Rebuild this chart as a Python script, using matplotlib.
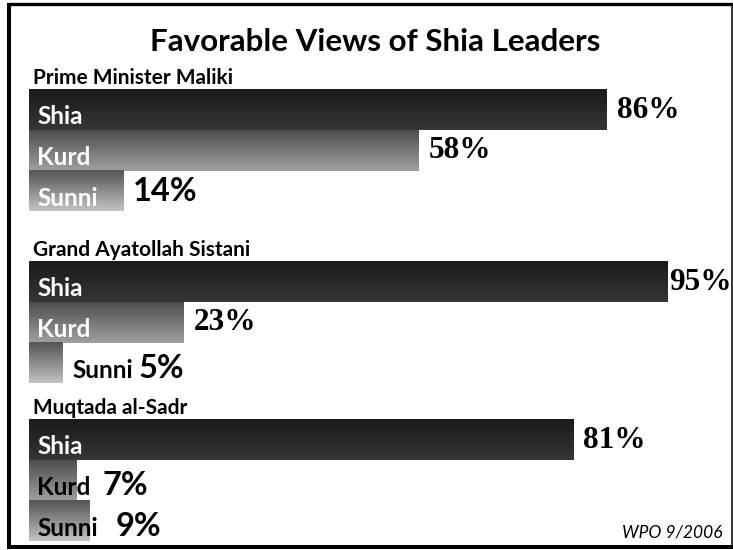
import matplotlib.pyplot as plt
import numpy as np
from matplotlib.colors import LinearSegmentedColormap
from matplotlib.lines import Line2D

# values
leaders = ["Prime Minister Maliki", "Grand Ayatollah Sistani", "Muqtada al-Sadr"]
groups = ["Shia", "Kurd", "Sunni"]
maliki = [86, 58, 14]
sistani = [95, 23, 5]
sadr = [81, 7, 9]
values = [maliki, sistani, sadr]

# gradient (top, bottom) for each group
shades = {
    "Shia": ("#1a1a1a", "#363636"),
    "Kurd": ("#4e4e4e", "#a0a0a0"),
    "Sunni": ("#555555", "#c2c2c2"),
}

W, H = 733, 550
fig = plt.figure(figsize=(W / 100, H / 100), dpi=100)
fig.patch.set_facecolor("white")

# axes: x in percent (0 at px 29, 6.72 px per %), y in pixels from the top
left_px = 29
px_per_pct = 6.72
ax = fig.add_axes([left_px / W, 0, 100 * px_per_pct / W, 1])
ax.set_axis_off()

sans = "Lato"
serif = "Liberation Serif"

group_tops = [90, 262, 420]
bar_h = 40.5
# spacing (points) between category name and value for the short bars
small_gap = {(1, 2): 4, (2, 1): 9, (2, 2): 13}

grad = np.linspace(0, 1, 64).reshape(-1, 1)

for gi, leader in enumerate(leaders):
    top = group_tops[gi]
    fig.text(33 / W, 1 - (top - 6) / H, leader, fontsize=15, fontweight="bold",
             family=sans, ha="left", va="baseline")
    for bi, grp in enumerate(groups):
        v = values[gi][bi]
        y0 = top + bi * bar_h
        y1 = y0 + bar_h
        cmap = LinearSegmentedColormap.from_list(grp, shades[grp])
        ax.imshow(grad, cmap=cmap, extent=(0, v, y1, y0), origin="upper",
                  aspect="auto", interpolation="bilinear")
        base = y1 - 6
        end_px = v * px_per_pct
        if v >= 14:
            ax.text(8 / px_per_pct, base, grp, color="white", fontsize=17.5,
                    fontweight="bold", family=sans, va="baseline")
            gap = 2 if v > 90 else 10
            ax.text(v + gap / px_per_pct, (y0 + y1) / 2, f"{v}%",
                    fontsize=22.5 if v >= 20 else 23.5, fontweight="bold",
                    family=serif if v >= 20 else sans, va="center")
        else:
            lx = 8 if end_px > 40 else end_px + 10
            lab = ax.text(lx / px_per_pct, base, grp, color="black", fontsize=17.5,
                          fontweight="bold", family=sans, va="baseline")
            ax.annotate(f"{v}%", xy=(1, 0), xycoords=lab,
                        xytext=(small_gap.get((gi, bi), 6), -1),
                        textcoords="offset points", fontsize=23.5,
                        fontweight="bold", family=sans, va="bottom")

ax.set_xlim(0, 100)
ax.set_ylim(H, 0)

fig.text(375 / W, 1 - 51 / H, "Favorable Views of Shia Leaders", fontsize=22.6,
         fontweight="bold", family=sans, ha="center", va="baseline")
fig.text(722 / W, 1 - 538 / H, "WPO 9/2006", fontsize=12.5, style="italic",
         family=sans, ha="right", va="baseline")

# frame
def px_line(xs, ys, lw):
    fig.add_artist(Line2D([x / W for x in xs], [1 - y / H for y in ys],
                          transform=fig.transFigure, color="black", lw=lw,
                          solid_capstyle="butt"))

px_line([9.3, 9.3], [2.5, 549], 2.9)
px_line([7.5, 733], [4.3, 4.3], 2.4)
px_line([7.5, 733], [547, 547], 2.9)
px_line([731.5, 731.5], [2.5, 549], 1.1)

fig.savefig("out.png", dpi=100)
